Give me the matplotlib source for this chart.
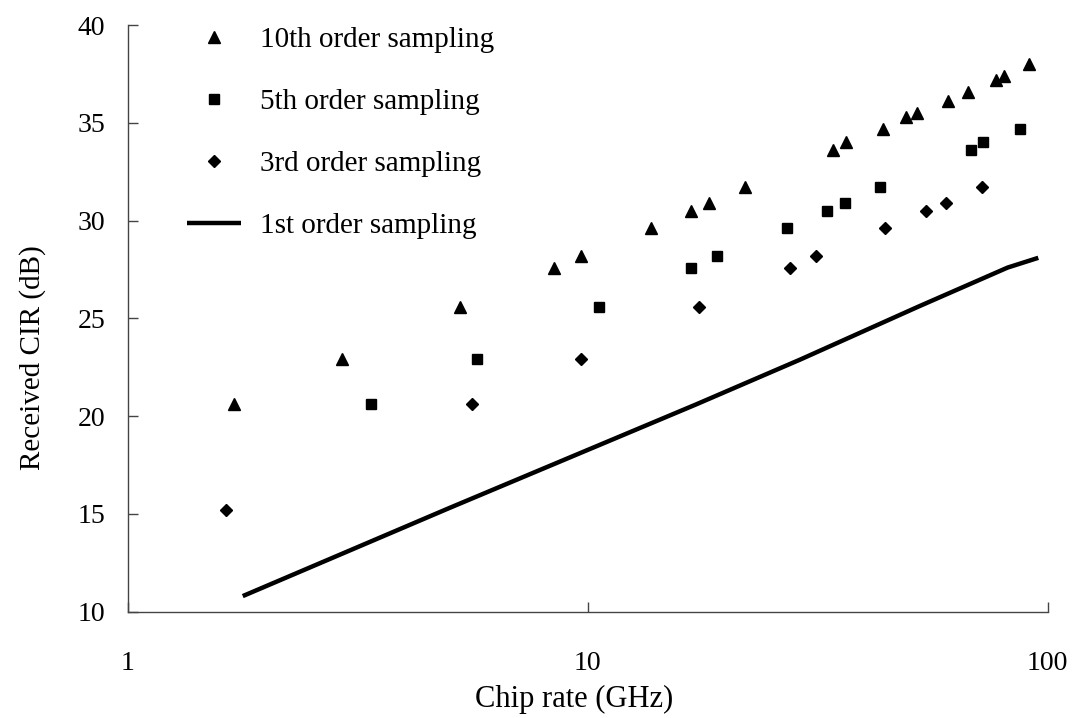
import matplotlib
matplotlib.use("Agg")
import matplotlib.pyplot as plt

# Data
tri_x = [1.70, 2.92, 5.29, 8.44, 9.68, 13.7, 16.8, 18.4, 22.0, 34.2, 36.5, 43.8, 49.1, 52.1, 60.7, 67.1, 77.3, 80.3, 91.2]
tri_y = [20.6, 22.9, 25.6, 27.6, 28.2, 29.6, 30.5, 30.9, 31.7, 33.6, 34.0, 34.7, 35.3, 35.5, 36.1, 36.6, 37.2, 37.4, 38.0]

sq_x = [3.39, 5.75, 10.6, 16.8, 19.1, 27.1, 33.2, 36.2, 43.2, 68.2, 72.4, 87.1]
sq_y = [20.6, 22.9, 25.6, 27.6, 28.2, 29.6, 30.5, 30.9, 31.7, 33.6, 34.0, 34.7]

dia_x = [1.64, 5.62, 9.68, 17.5, 27.6, 31.4, 44.4, 54.5, 60.2, 71.8]
dia_y = [15.2, 20.6, 22.9, 25.6, 27.6, 28.2, 29.6, 30.5, 30.9, 31.7]

line_x = [1.78, 5.0, 17.2, 29.0, 52.3, 81.8, 95.4]
line_y = [10.8, 15.3, 20.6, 22.9, 25.6, 27.6, 28.1]

labels = ["10th order sampling", "5th order sampling", "3rd order sampling", "1st order sampling"]
x_ticks = [1, 10, 100]
x_ticklabels = ["1", "10", "100"]
y_ticks = [10, 15, 20, 25, 30, 35, 40]

plt.rcParams['font.family'] = ['Liberation Serif', 'DejaVu Serif']

fig = plt.figure(figsize=(10.79, 7.18), dpi=100)
ax = fig.add_axes([0.1182, 0.148, 0.8528, 0.817])

h1, = ax.plot(tri_x, tri_y, linestyle='none', marker='^', markersize=8.6, color='black', label=labels[0])
h2, = ax.plot(sq_x, sq_y, linestyle='none', marker='s', markersize=7.8, color='black', label=labels[1])
h3, = ax.plot(dia_x, dia_y, linestyle='none', marker='D', markersize=6.0, color='black', label=labels[2])
h4, = ax.plot(line_x, line_y, linestyle='-', linewidth=3.2, color='black', label=labels[3], solid_capstyle='butt')

ax.set_xscale('log')
ax.set_xlim(1, 100)
ax.set_ylim(10, 40)
ax.set_xticks(x_ticks)
ax.set_xticklabels(x_ticklabels)
ax.xaxis.set_minor_locator(matplotlib.ticker.NullLocator())
ax.set_yticks(y_ticks)

for s in ['top', 'right']:
    ax.spines[s].set_visible(False)
for s in ['left', 'bottom']:
    ax.spines[s].set_color('#444444')
    ax.spines[s].set_linewidth(1.0)

ax.tick_params(axis='both', direction='in', length=7, width=1.0, color='#444444', labelsize=20, labelcolor='black')
ax.tick_params(axis='y', pad=16)
ax.tick_params(axis='x', pad=28)

ax.set_xlabel("Chip rate (GHz)", fontsize=22)
ax.set_ylabel("Received CIR (dB)", fontsize=21)
ax.xaxis.set_label_coords(0.485, -0.125)
ax.yaxis.set_label_coords(-0.103, 0.434)
ax.yaxis.label.set_va('center')

leg = ax.legend(handles=[h1, h2, h3, h4], loc='upper left', bbox_to_anchor=(0.065, 0.998),
                frameon=False, fontsize=21, handlelength=1.85, handletextpad=0.65,
                labelspacing=1.22, borderpad=0.0, borderaxespad=0.0, numpoints=1)

fig.savefig("out.png", dpi=100, facecolor='white')
